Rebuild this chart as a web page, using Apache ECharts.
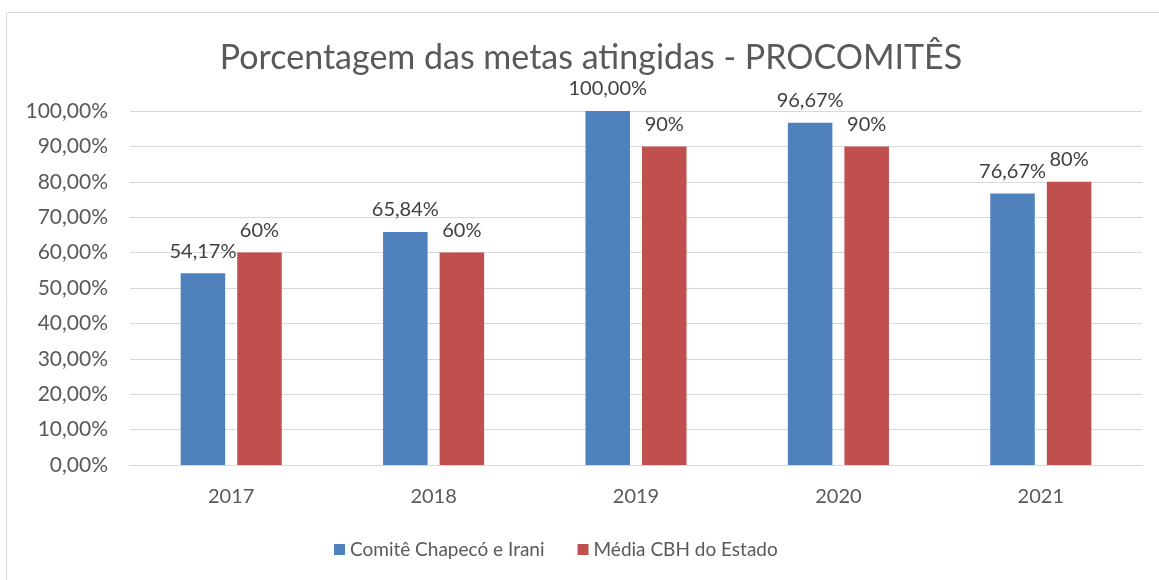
<!DOCTYPE html>
<html>
<head>
<meta charset="utf-8">
<script src="https://cdn.jsdelivr.net/npm/echarts@6/dist/echarts.min.js"></script>
<style>html,body{margin:0;padding:0;background:#fff;}#c{width:1159px;height:580px;}</style>
</head>
<body>
<div id="c"></div>
<script>
const categories = ['2017', '2018', '2019', '2020', '2021'];
const comiteValues = [54.17, 65.84, 100.00, 96.67, 76.67];
const mediaValues = [60, 60, 90, 90, 80];
const seriesNames = ['Comitê Chapecó e Irani', 'Média CBH do Estado'];
const yTicks = [0, 10, 20, 30, 40, 50, 60, 70, 80, 90, 100];

const FONT = 'Lato';
const chart = echarts.init(document.getElementById('c'));
chart.setOption({
  animation: false,
  backgroundColor: '#fff',
  textStyle: { fontFamily: FONT },
  graphic: [{
    type: 'rect', z: -1,
    shape: { x: 6.5, y: 12.5, width: 1200, height: 700 },
    style: { fill: '#fff', stroke: '#d9d9d9', lineWidth: 1 }
  }],
  title: {
    text: 'Porcentagem das metas atingidas - PROCOMITÊS',
    left: 586, top: 36, textAlign: 'center',
    textStyle: { fontFamily: FONT, fontSize: 34, fontWeight: 'normal', color: '#595959' }
  },
  legend: {
    left: 329, top: 535,
    itemWidth: 11, itemHeight: 11, itemGap: 33,
    icon: 'rect',
    textStyle: { fontFamily: FONT, fontSize: 19, color: '#595959' },
    data: seriesNames
  },
  grid: { left: 130, right: 17, top: 111, bottom: 115 },
  xAxis: {
    type: 'category', data: categories,
    axisLine: { lineStyle: { color: '#d9d9d9', width: 1 } },
    axisTick: { show: false },
    axisLabel: { fontFamily: FONT, fontSize: 20, color: '#595959', margin: 22 }
  },
  yAxis: {
    type: 'value', min: yTicks[0], max: yTicks[yTicks.length - 1], interval: 10,
    axisLine: { show: false }, axisTick: { show: false },
    splitLine: { lineStyle: { color: '#d9d9d9', width: 1 } },
    axisLabel: {
      fontFamily: FONT, fontSize: 21, color: '#595959', margin: 22,
      formatter: v => v.toFixed(2).replace('.', ',') + '%'
    }
  },
  series: [{
    name: seriesNames[0], type: 'bar', data: comiteValues,
    barWidth: '22%', barGap: '27%',
    itemStyle: { color: '#4F81BD' },
    label: {
      show: true, position: 'top', distance: 12,
      fontFamily: FONT, fontSize: 20, color: '#404040',
      formatter: p => p.value.toFixed(2).replace('.', ',') + '%'
    }
  }, {
    name: seriesNames[1], type: 'bar', data: mediaValues,
    barWidth: '22%', barGap: '27%',
    itemStyle: { color: '#C0504D' },
    label: {
      show: true, position: 'top', distance: 12,
      fontFamily: FONT, fontSize: 20, color: '#404040',
      formatter: p => p.value + '%'
    }
  }]
});
</script>
</body>
</html>
